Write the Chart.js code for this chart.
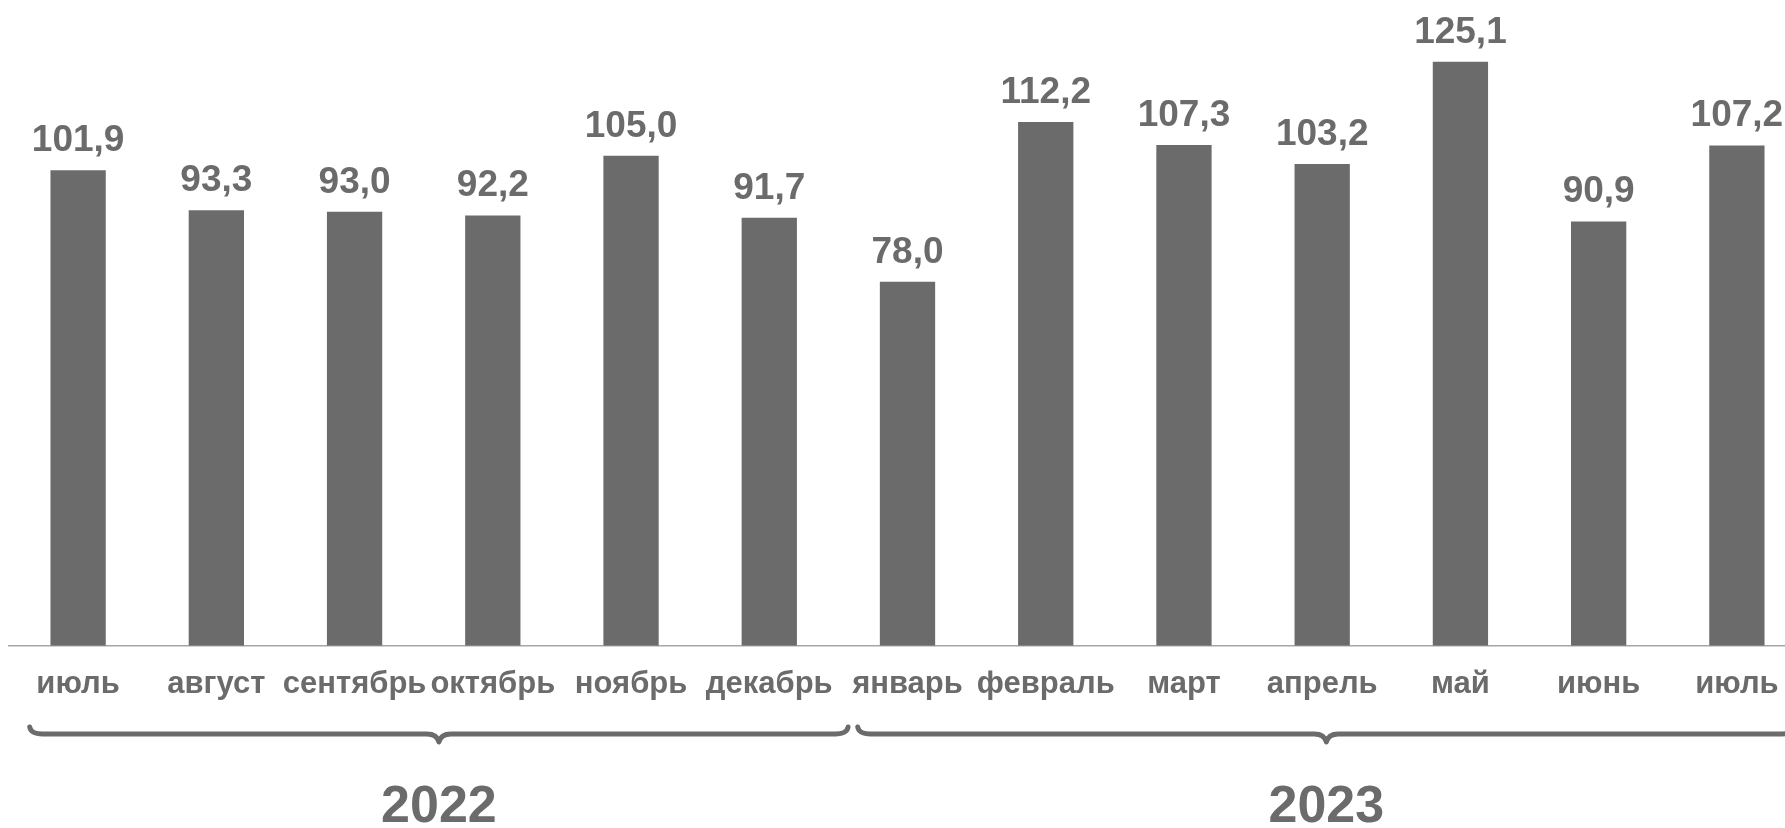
<!DOCTYPE html>
<html lang="ru">
<head>
<meta charset="utf-8">
<title>Индекс по месяцам</title>
<script src="https://cdn.jsdelivr.net/npm/chart.js@4.4.1/dist/chart.umd.min.js"></script>
<style>
  html, body { margin: 0; padding: 0; background: #fff; overflow: hidden; }
  #wrap { position: relative; width: 1806px; height: 828px; }
</style>
</head>
<body>
<div id="wrap"><canvas id="chart"></canvas></div>
<script>
/* ── данные ── */
var months = ['июль', 'август', 'сентябрь', 'октябрь', 'ноябрь', 'декабрь',
              'январь', 'февраль', 'март', 'апрель', 'май', 'июнь', 'июль'];
var values = [101.9, 93.3, 93.0, 92.2, 105.0, 91.7, 78.0, 112.2, 107.3, 103.2, 125.1, 90.9, 107.2];
var years = ['2022', '2023'];
var yearFirst = [0, 6];   // первый месяц каждого года
var yearLast = [5, 12];   // последний месяц каждого года

var INK = '#6b6b6b';
var FONT = '"Liberation Sans", Arial, sans-serif';
var fmt = function (v) { return v.toFixed(1).replace('.', ','); };

/* ── подписи значений над столбиками ── */
var valueLabels = {
  id: 'valueLabels',
  afterDatasetsDraw: function (chart) {
    var ctx = chart.ctx, meta = chart.getDatasetMeta(0);
    ctx.save();
    ctx.fillStyle = INK;
    ctx.font = 'bold 37px ' + FONT;
    ctx.textAlign = 'center';
    ctx.textBaseline = 'alphabetic';
    meta.data.forEach(function (bar, i) { ctx.fillText(fmt(values[i]), bar.x, bar.y - 19); });
    ctx.restore();
  }
};

/* ── фигурные скобки и годы под осью ── */
var yearBraces = {
  id: 'yearBraces',
  afterDraw: function (chart) {
    var ctx = chart.ctx, x = chart.scales.x;
    var step = x.getPixelForValue(1) - x.getPixelForValue(0);
    var yLine = 734, yTip = 727, yCusp = 742;
    ctx.save();
    ctx.strokeStyle = INK;
    ctx.lineWidth = 5;
    ctx.lineCap = 'round';
    ctx.lineJoin = 'round';
    years.forEach(function (yr, k) {
      var x0 = x.getPixelForValue(yearFirst[k]) - (k === 0 ? 0.35 : 0.36) * step;
      var x1 = x.getPixelForValue(yearLast[k]) + (k === 0 ? 0.57 : 0.42) * step;
      var cx = (x0 + x1) / 2;
      ctx.beginPath();
      ctx.moveTo(x0, yTip);
      ctx.quadraticCurveTo(x0 + 1, yLine, x0 + 13, yLine);
      ctx.lineTo(cx - 12, yLine);
      ctx.quadraticCurveTo(cx - 2, yLine, cx, yCusp);
      ctx.quadraticCurveTo(cx + 2, yLine, cx + 12, yLine);
      ctx.lineTo(x1 - 13, yLine);
      ctx.quadraticCurveTo(x1 - 1, yLine, x1, yTip);
      ctx.stroke();

      ctx.fillStyle = INK;
      ctx.font = 'bold 52px ' + FONT;
      ctx.textAlign = 'center';
      ctx.textBaseline = 'alphabetic';
      ctx.fillText(yr, cx, 822);
    });
    ctx.restore();
  }
};

new Chart(document.getElementById('chart'), {
  type: 'bar',
  data: {
    labels: months,
    datasets: [{
      data: values,
      backgroundColor: INK,
      borderWidth: 0,
      barPercentage: 0.4,
      categoryPercentage: 1.0
    }]
  },
  options: {
    responsive: true,
    maintainAspectRatio: false,
    animation: false,
    layout: { padding: { left: 9, right: 0, top: 0, bottom: 105 } },
    plugins: { legend: { display: false }, tooltip: { enabled: false } },
    scales: {
      x: {
        grid: { display: false, drawTicks: false },
        border: { display: true, color: '#a6a6a6', width: 1.5 },
        ticks: {
          color: INK, autoSkip: false, maxRotation: 0, padding: 20,
          font: { family: FONT, size: 31, weight: 'bold' }
        }
      },
      y: { display: false, min: 0, max: 138.35 }
    }
  },
  plugins: [valueLabels, yearBraces]
});
</script>
</body>
</html>
